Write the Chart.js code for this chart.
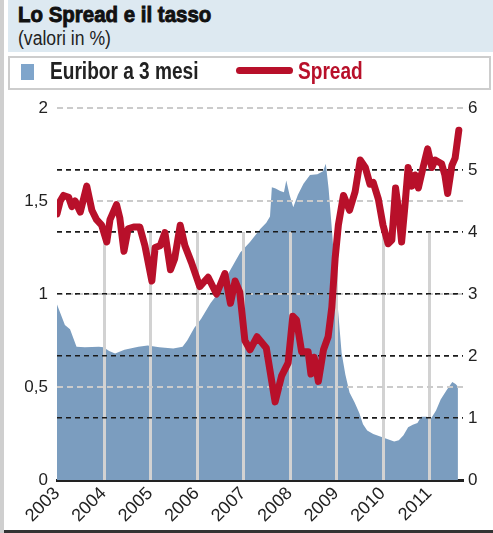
<!DOCTYPE html>
<html>
<head>
<meta charset="utf-8">
<script src="https://cdn.jsdelivr.net/npm/chart.js@4.4.1/dist/chart.umd.min.js"></script>
<style>
  html, body { margin: 0; padding: 0; background: #fff; }
  body { width: 493px; height: 533px; position: relative; overflow: hidden; }
  #c { position: absolute; left: 0; top: 0; }
  .abs { position: absolute; z-index: 2; }
  .txt { white-space: nowrap; transform-origin: 0 0; }
  #strip { left: 0; top: 0; width: 4px; height: 533px; background: #cfcfcf; }
  #head { left: 8px; top: 0; width: 485px; height: 52px; background: #dde9f1; }
  #title { left: 18px; top: 4px; font: bold 22px "Liberation Sans", Arial, sans-serif; line-height: 22px; color: #111;
           -webkit-text-stroke: 0.9px #111; transform: scaleX(0.93); }
  #sub { left: 18px; top: 28px; font: 20px "Liberation Sans", Arial, sans-serif; line-height: 20px; color: #222; transform: scaleX(0.88); }
  #legend { left: 8px; top: 56px; width: 479px; height: 30px; border: 2px solid #cdcdcd; background: #fff; }
  #sq { left: 21px; top: 64px; width: 13px; height: 16px; background: #7fa5cb; }
  #lab1 { left: 50px; top: 60px; font: bold 23px "Liberation Sans", Arial, sans-serif; line-height: 23px; color: #222; transform: scaleX(0.83); }
  #ln { left: 236px; top: 67px; width: 57px; height: 7px; border-radius: 4px; background: #b8102a; }
  #lab2 { left: 298px; top: 60px; font: bold 23px "Liberation Sans", Arial, sans-serif; line-height: 23px; color: #b8102a; transform: scaleX(0.83); }
  #bottom { left: 4px; top: 530px; width: 489px; height: 3px; background: #333; }
</style>
</head>
<body>
<div class="abs" id="strip"></div>
<div class="abs" id="head"></div>
<div class="abs txt" id="title">Lo Spread e il tasso</div>
<div class="abs txt" id="sub">(valori in %)</div>
<div class="abs" id="legend"></div>
<div class="abs" id="sq"></div>
<div class="abs txt" id="lab1">Euribor a 3 mesi</div>
<div class="abs" id="ln"></div>
<div class="abs txt" id="lab2">Spread</div>
<div class="abs" id="bottom"></div>
<canvas id="c" width="493" height="533"></canvas>
<script>
// anni (frazione di anno) e valori
const years = [2003, 2004, 2005, 2006, 2007, 2008, 2009, 2010, 2011];

const euriborX = [
  2003.00, 2003.17, 2003.28, 2003.42, 2003.60, 2003.90, 2004.00, 2004.12, 2004.25, 2004.45,
  2004.75, 2004.95, 2005.20, 2005.50, 2005.70, 2005.80, 2005.95, 2006.10, 2006.30, 2006.50,
  2006.70, 2006.94, 2007.15, 2007.37, 2007.50, 2007.58, 2007.62, 2007.70, 2007.80, 2007.88,
  2007.93, 2008.00, 2008.08, 2008.18, 2008.30, 2008.44, 2008.60, 2008.72, 2008.78, 2008.84,
  2008.91, 2009.00, 2009.12, 2009.20, 2009.29, 2009.40, 2009.50, 2009.58, 2009.67, 2009.80,
  2009.95, 2010.10, 2010.25, 2010.35, 2010.45, 2010.55, 2010.65, 2010.75, 2010.83, 2010.95,
  2011.05, 2011.15, 2011.25, 2011.38, 2011.50, 2011.57, 2011.62
];
const euriborY = [
  2.83, 2.50, 2.43, 2.15, 2.14, 2.15, 2.14, 2.08, 2.04, 2.10,
  2.15, 2.17, 2.14, 2.12, 2.15, 2.25, 2.45, 2.60, 2.85, 3.05,
  3.35, 3.67, 3.84, 4.05, 4.15, 4.25, 4.72, 4.70, 4.66, 4.64,
  4.83, 4.60, 4.40, 4.60, 4.78, 4.92, 4.93, 4.98, 5.10, 4.70,
  4.05, 3.13, 2.05, 1.70, 1.41, 1.25, 1.08, 0.90, 0.80, 0.74,
  0.70, 0.66, 0.62, 0.64, 0.72, 0.85, 0.89, 0.92, 1.02, 1.02,
  1.00, 1.12, 1.30, 1.45, 1.58, 1.55, 1.51
];

const spreadX = [
  2003.00, 2003.07, 2003.14, 2003.25, 2003.32, 2003.39, 2003.50, 2003.64, 2003.75, 2003.85,
  2003.96, 2004.07, 2004.14, 2004.28, 2004.35, 2004.44, 2004.53, 2004.65, 2004.78, 2004.89,
  2005.04, 2005.11, 2005.22, 2005.32, 2005.44, 2005.53, 2005.65, 2005.75, 2005.89, 2006.07,
  2006.25, 2006.43, 2006.61, 2006.73, 2006.83, 2006.93, 2007.04, 2007.15, 2007.30, 2007.50,
  2007.69, 2007.83, 2007.97, 2008.07, 2008.15, 2008.26, 2008.40, 2008.46, 2008.53, 2008.62,
  2008.73, 2008.83, 2008.91, 2008.98, 2009.05, 2009.16, 2009.29, 2009.41, 2009.52, 2009.63,
  2009.73, 2009.80, 2009.91, 2010.01, 2010.12, 2010.20, 2010.28, 2010.34, 2010.41, 2010.48,
  2010.55, 2010.63, 2010.70, 2010.77, 2010.88, 2010.97, 2011.06, 2011.13, 2011.27, 2011.34,
  2011.40, 2011.49, 2011.56, 2011.64
];
const spreadY = [
  1.43, 1.50, 1.53, 1.52, 1.47, 1.50, 1.44, 1.58, 1.45, 1.40,
  1.37, 1.28, 1.40, 1.48, 1.41, 1.23, 1.35, 1.36, 1.36, 1.26,
  1.07, 1.25, 1.26, 1.33, 1.13, 1.19, 1.37, 1.26, 1.17, 1.04,
  1.09, 1.00, 1.11, 0.95, 1.07, 1.01, 0.75, 0.70, 0.77, 0.71,
  0.42, 0.56, 0.63, 0.88, 0.86, 0.69, 0.69, 0.57, 0.66, 0.53,
  0.70, 0.77, 0.93, 1.19, 1.37, 1.53, 1.45, 1.55, 1.72, 1.68,
  1.59, 1.60, 1.51, 1.37, 1.27, 1.29, 1.57, 1.46, 1.28, 1.47,
  1.68, 1.58, 1.64, 1.57, 1.69, 1.78, 1.68, 1.72, 1.70, 1.64,
  1.54, 1.69, 1.73, 1.88
];

const leftTicks = [0, 0.5, 1, 1.5, 2];
const rightTicks = [0, 1, 2, 3, 4, 5, 6];

const toPoints = (xs, ys) => xs.map((x, i) => ({ x: x, y: ys[i] }));

// righe degli anni e griglie tratteggiate disegnate sopra l'area
const overArea = {
  id: 'overArea',
  afterDatasetDraw(chart, args) {
    if (args.index !== 1) return;
    const { ctx, chartArea, scales } = chart;
    ctx.save();
    ctx.strokeStyle = '#d2d2d2';
    ctx.lineWidth = 3;
    years.forEach(yr => {
      if (yr === years[0]) return;
      const px = Math.round(scales.x.getPixelForValue(yr)) + 0.5;
      ctx.beginPath();
      ctx.moveTo(px, scales.yR.getPixelForValue(4));
      ctx.lineTo(px, chartArea.bottom);
      ctx.stroke();
    });
    ctx.restore();
    scales.yL.drawGrid(chartArea);
    scales.yR.drawGrid(chartArea);
  }
};

const tickFont = { family: '"Liberation Sans", Arial, sans-serif', size: 17 };

new Chart(document.getElementById('c'), {
  type: 'line',
  data: {
    datasets: [
      {
        label: 'Spread',
        data: toPoints(spreadX, spreadY),
        yAxisID: 'yL',
        borderColor: '#b8102a',
        borderWidth: 7,
        borderJoinStyle: 'round',
        borderCapStyle: 'round',
        pointRadius: 0,
        tension: 0,
        fill: false
      },
      {
        label: 'Euribor a 3 mesi',
        data: toPoints(euriborX, euriborY),
        yAxisID: 'yR',
        borderWidth: 0,
        borderColor: 'rgba(0,0,0,0)',
        backgroundColor: '#7b9dbf',
        pointRadius: 0,
        tension: 0,
        fill: 'origin'
      }
    ]
  },
  options: {
    responsive: false,
    animation: false,
    events: [],
    layout: { padding: { top: 108, bottom: 3, left: 0, right: 0 } },
    plugins: {
      legend: { display: false },
      tooltip: { enabled: false }
    },
    scales: {
      x: {
        type: 'linear',
        min: 2003,
        max: 2011.73,
        afterFit: s => { s.height = 50; },
        afterBuildTicks: s => { s.ticks = years.map(v => ({ value: v })); },
        grid: { display: false, drawTicks: false },
        border: { display: true, color: '#222', width: 3 },
        ticks: {
          autoSkip: false,
          minRotation: 45,
          maxRotation: 45,
          padding: 3,
          color: '#222',
          font: { family: '"Liberation Sans", Arial, sans-serif', size: 18 },
          callback: v => String(v)
        }
      },
      yL: {
        position: 'left',
        min: 0,
        max: 2,
        afterFit: s => { s.width = 57; },
        afterBuildTicks: s => { s.ticks = leftTicks.map(v => ({ value: v })); },
        grid: {
          drawTicks: false,
          lineWidth: 2,
          color: c => (c.tick && c.tick.value === 0) ? 'rgba(0,0,0,0)' : '#cbcbcb'
        },
        border: { display: false, dash: [6, 4] },
        ticks: {
          padding: 9,
          color: '#222',
          font: tickFont,
          callback: v => String(v).replace('.', ',')
        }
      },
      yR: {
        position: 'right',
        min: 0,
        max: 6,
        afterFit: s => { s.width = 30; },
        afterBuildTicks: s => { s.ticks = rightTicks.map(v => ({ value: v })); },
        grid: {
          drawTicks: false,
          lineWidth: 1.6,
          color: c => (c.tick && (c.tick.value === 0 || c.tick.value === 6)) ? 'rgba(0,0,0,0)' : '#1a1a1a'
        },
        border: { display: false, dash: [5, 4] },
        ticks: {
          padding: 5,
          color: '#222',
          font: tickFont,
          callback: v => String(v)
        }
      }
    }
  },
  plugins: [overArea]
});
</script>
</body>
</html>
